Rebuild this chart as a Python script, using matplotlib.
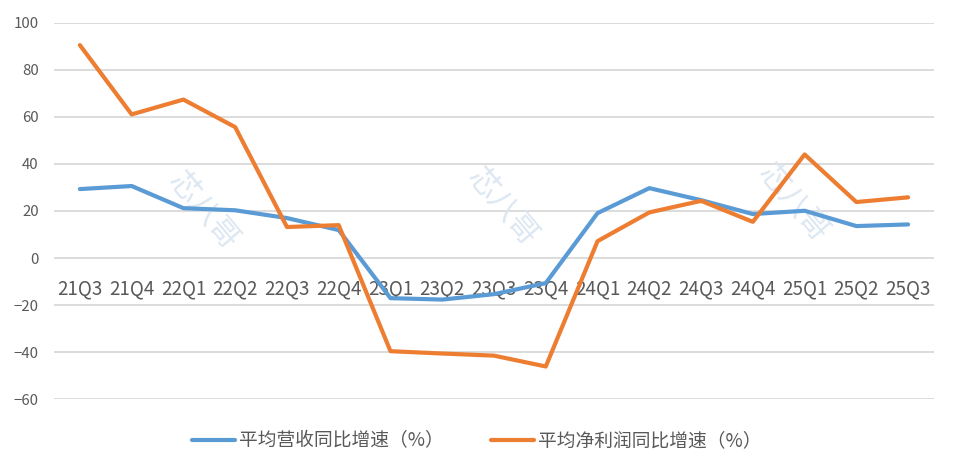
import matplotlib
matplotlib.use('Agg')
import matplotlib.pyplot as plt

plt.rcParams['font.family'] = ['Noto Sans CJK SC', 'DejaVu Sans']

# Quarter labels and growth rates (%)
quarters = ['21Q3', '21Q4', '22Q1', '22Q2', '22Q3', '22Q4', '23Q1', '23Q2', '23Q3',
            '23Q4', '24Q1', '24Q2', '24Q3', '24Q4', '25Q1', '25Q2', '25Q3']
revenue_growth = [29.3, 30.6, 21.2, 20.3, 17.0, 11.9, -17.0, -17.6, -15.3,
                  -10.6, 19.1, 29.7, 24.6, 18.7, 20.1, 13.6, 14.3]
profit_growth = [90.4, 61.0, 67.3, 55.6, 13.2, 14.0, -39.5, -40.5, -41.4,
                 -46.0, 7.2, 19.4, 24.3, 15.4, 44.0, 23.8, 25.8]

blue = '#5B9BD5'
orange = '#ED7D31'
grey_text = '#595959'

fig = plt.figure(figsize=(9.56, 4.75), dpi=100)
ax = fig.add_axes([0.0565, 0.159, 0.9205, 0.7936])

x = list(range(len(quarters)))
ax.plot(x, revenue_growth, color=blue, lw=3, solid_capstyle='round',
        solid_joinstyle='round', label='平均营收同比增速（%）', zorder=3)
ax.plot(x, profit_growth, color=orange, lw=3, solid_capstyle='round',
        solid_joinstyle='round', label='平均净利润同比增速（%）', zorder=3)

ax.set_xlim(-0.5, len(quarters) - 0.5)
ax.set_ylim(-60, 100)
ax.set_yticks(range(-60, 101, 20))
ax.grid(axis='y', color='#D9D9D9', lw=1.3)
ax.set_axisbelow(True)

for s in ax.spines.values():
    s.set_visible(False)
ax.spines['bottom'].set_position(('data', 0))

ax.set_xticks(x)
ax.set_xticklabels(quarters)
ax.tick_params(axis='x', length=0, pad=15, labelsize=13.5, colors=grey_text)
ax.tick_params(axis='y', length=0, pad=11, labelsize=10.8, colors=grey_text)

# faint watermarks
for wx, wy in [(0.17, 0.50), (0.51, 0.51), (0.84, 0.52)]:
    ax.text(wx, wy, '芯八哥', transform=ax.transAxes, rotation=-50, fontsize=22,
            color='#DCE7F2', ha='center', va='center', zorder=1)

leg = fig.legend(loc='center', bbox_to_anchor=(0.4985, 0.072), ncol=2, frameon=False,
                 fontsize=13.5, handlelength=2.3, handletextpad=0.2, columnspacing=2.5)
for t in leg.get_texts():
    t.set_color(grey_text)

fig.savefig('out.png', dpi=100)
